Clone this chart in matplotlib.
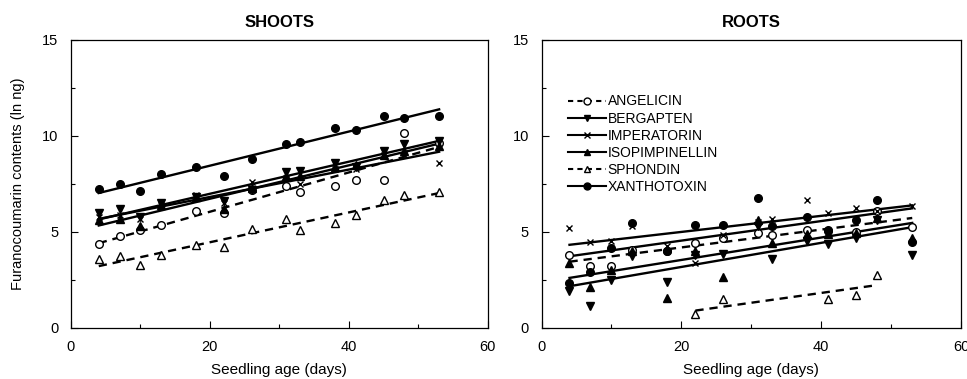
import numpy as np
import matplotlib
matplotlib.use("Agg")
from matplotlib import pyplot as plt
from matplotlib.lines import Line2D

plt.rcParams["font.family"] = ["Liberation Sans", "DejaVu Sans"]

# Seedling age (days)
days = [4, 7, 10, 13, 18, 22, 26, 31, 33, 38, 41, 45, 48, 53]

# Shoots (ln ng)
shoot_angelicin = [4.35, 4.77, 5.08, 5.34, 6.11, 5.99, 7.2, 7.38, 7.06, 7.38, 7.72, 7.72, 10.16, 9.64]
shoot_bergapten = [6.0, 6.2, 5.8, 6.5, 6.8, 6.6, 7.2, 8.1, 8.2, 8.6, 8.4, 9.2, 9.6, 9.75]
shoot_imperatorin = [5.8, 5.9, 5.7, 6.4, 6.9, 6.5, 7.6, 7.8, 7.5, 8.3, 8.3, 9.0, 9.0, 8.6]
shoot_isopimpinellin = [5.6, 5.7, 5.3, 6.4, 6.8, 6.2, 7.3, 7.9, 7.9, 8.4, 8.5, 9.0, 9.2, 9.5]
shoot_sphondin = [3.61, 3.73, 3.30, 3.78, 4.34, 4.2, 5.17, 5.68, 5.12, 5.47, 5.9, 6.65, 6.94, 7.08]
shoot_xanthotoxin = [7.24, 7.52, 7.15, 8.04, 8.36, 7.9, 8.8, 9.6, 9.67, 10.42, 10.31, 11.02, 10.92, 11.06]

# Roots (ln ng)
root_angelicin = [3.78, 3.24, 3.24, 4.08, 4.0, 4.42, 4.69, 4.95, 4.86, 5.12, 5.04, 5.0, 6.1, 5.28]
root_bergapten = [1.91, 1.16, 2.52, 3.76, 2.38, 3.81, 3.87, 5.3, 3.6, 4.51, 4.38, 4.69, 5.64, 3.82]
root_imperatorin = [5.2, 4.5, 4.55, 5.3, 4.25, 3.4, 4.85, 5.5, 5.7, 6.65, 6.0, 6.25, 6.1, 6.35]
root_isopimpinellin = [3.39, 2.13, 3.04, 4.0, 1.56, 3.99, 2.66, 5.6, 4.42, 4.9, 4.9, 4.95, 5.73, 4.7]
root_sphondin_days = [22, 26, 41, 45, 48]
root_sphondin = [0.72, 1.5, 1.5, 1.72, 2.77]
root_xanthotoxin = [2.34, 2.9, 4.17, 5.47, 3.99, 5.35, 5.36, 6.75, 5.29, 5.78, 5.12, 5.6, 6.65, 4.48]

names = ["ANGELICIN", "BERGAPTEN", "IMPERATORIN", "ISOPIMPINELLIN", "SPHONDIN", "XANTHOTOXIN"]
styles = {
    "ANGELICIN": dict(marker="o", mfc="white", ls="--"),
    "BERGAPTEN": dict(marker="v", mfc="black", ls="-"),
    "IMPERATORIN": dict(marker="x", mfc="black", ls="-"),
    "ISOPIMPINELLIN": dict(marker="^", mfc="black", ls="-"),
    "SPHONDIN": dict(marker="^", mfc="white", ls="--"),
    "XANTHOTOXIN": dict(marker="o", mfc="black", ls="-"),
}

shoots = {
    "ANGELICIN": (days, shoot_angelicin),
    "BERGAPTEN": (days, shoot_bergapten),
    "IMPERATORIN": (days, shoot_imperatorin),
    "ISOPIMPINELLIN": (days, shoot_isopimpinellin),
    "SPHONDIN": (days, shoot_sphondin),
    "XANTHOTOXIN": (days, shoot_xanthotoxin),
}
roots = {
    "ANGELICIN": (days, root_angelicin),
    "BERGAPTEN": (days, root_bergapten),
    "IMPERATORIN": (days, root_imperatorin),
    "ISOPIMPINELLIN": (days, root_isopimpinellin),
    "SPHONDIN": (root_sphondin_days, root_sphondin),
    "XANTHOTOXIN": (days, root_xanthotoxin),
}

fig = plt.figure(figsize=(9.67, 3.79), dpi=100)
ax1 = fig.add_axes([0.0734, 0.1346, 0.431, 0.76])
ax2 = fig.add_axes([0.560, 0.1346, 0.434, 0.76])


def draw(ax, data, title):
    for name in names:
        x, y = np.array(data[name][0]), np.array(data[name][1])
        st = styles[name]
        ms = 5.5 if st["marker"] != "x" else 5
        ax.plot(x, y, ls="none", marker=st["marker"], mfc=st["mfc"],
                mec="black", mew=1.0, ms=ms, zorder=3)
        # linear regression line over the sampled range
        k, b = np.polyfit(x, y, 1)
        xf = np.array([x.min(), x.max()])
        ax.plot(xf, k * xf + b, color="black", lw=1.7, ls=st["ls"],
                dashes=(3.5, 2.5) if st["ls"] == "--" else (None, None), zorder=2)
    ax.set_xlim(0, 60)
    ax.set_ylim(0, 15)
    ax.set_xticks([0, 20, 40, 60])
    ax.set_xticks([10, 30, 50], minor=True)
    ax.set_yticks([0, 5, 10, 15])
    ax.set_yticks([2.5, 7.5, 12.5], minor=True)
    ax.tick_params(which="both", direction="in", labelsize=10.5, width=0.8)
    ax.tick_params(which="major", length=5, pad=9)
    ax.tick_params(which="minor", length=3)
    ax.set_title(title, fontsize=12, fontweight="bold", pad=9)
    ax.set_xlabel("Seedling age (days)", fontsize=11, labelpad=6)
    for s in ax.spines.values():
        s.set_linewidth(0.9)


draw(ax1, shoots, "SHOOTS")
draw(ax2, roots, "ROOTS")
ax1.set_ylabel("Furanocoumarin contents (ln ng)", fontsize=10.5, labelpad=12)

handles = []
for name in names:
    st = styles[name]
    handles.append(Line2D([], [], color="black", lw=1.5, ls=st["ls"],
                          dashes=(2.5, 2) if st["ls"] == "--" else (None, None),
                          marker=st["marker"], mfc=st["mfc"], mec="black",
                          ms=5, label=name))
ax2.legend(handles=handles, loc="upper left", bbox_to_anchor=(0.05, 0.83),
           frameon=False, fontsize=10, handlelength=2.7, handletextpad=0.15,
           labelspacing=0.22, borderaxespad=0)

fig.savefig("out.png", dpi=100)
